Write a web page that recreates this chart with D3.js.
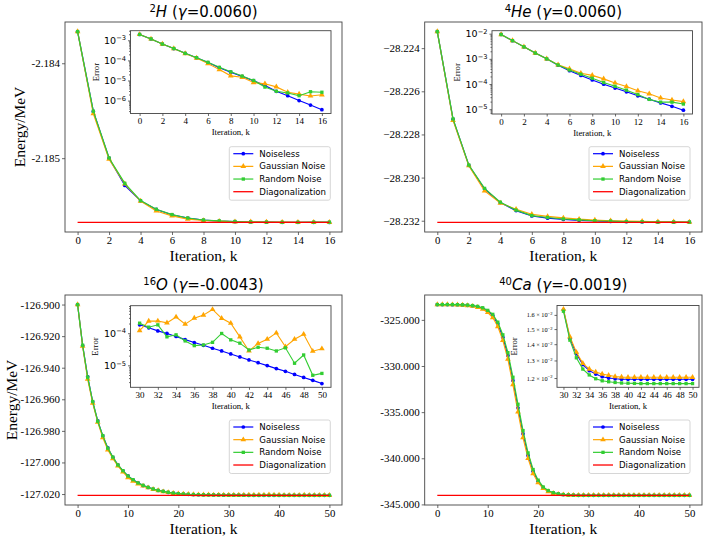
<!DOCTYPE html>
<html><head><meta charset="utf-8">
<script src="https://cdn.jsdelivr.net/npm/d3@7/dist/d3.min.js"></script>
<style>body{margin:0;background:#fff}svg{display:block}</style>
</head><body>
<svg id="chart" width="706" height="540"></svg>
<script>
// ---------------- DATA ----------------
const seriesNames = ["Noiseless", "Gaussian Noise", "Random Noise", "Diagonalization"];

// 2H panel (iterations 0..16)
const h2Noiseless = [-2.183666,-2.184508,-2.185000,-2.185287,-2.185449,-2.185540,-2.185596,-2.185632,-2.185653,-2.185663,-2.185669,-2.185672,-2.185674,-2.185675,-2.185676,-2.185676,-2.185677];
const h2Gaussian  = [-2.183666,-2.184530,-2.185010,-2.185270,-2.185452,-2.185556,-2.185607,-2.185641,-2.185656,-2.185664,-2.185670,-2.185671,-2.185672,-2.185674,-2.185675,-2.185675,-2.185675];
const h2Random    = [-2.183666,-2.184505,-2.184998,-2.185265,-2.185447,-2.185538,-2.185594,-2.185630,-2.185651,-2.185661,-2.185667,-2.185672,-2.185674,-2.185675,-2.185675,-2.185674,-2.185674];
const h2Diag = -2.185677;
const h2ErrNoiseless = [1.95e-3,1.17e-3,6.5e-4,3.9e-4,2.24e-4,1.35e-4,7.8e-5,4.35e-5,2.6e-5,1.6e-5,9.8e-6,5.6e-6,2.9e-6,1.74e-6,1.0e-6,6.0e-7,3.5e-7];
const h2ErrGaussian  = [1.95e-3,1.17e-3,6.5e-4,3.9e-4,2.2e-4,1.3e-4,6.9e-5,3.5e-5,1.7e-5,1.44e-5,7.9e-6,6.9e-6,4.8e-6,2.6e-6,2.1e-6,1.7e-6,1.95e-6];
const h2ErrRandom    = [1.95e-3,1.17e-3,6.5e-4,3.9e-4,2.24e-4,1.37e-4,8.0e-5,4.5e-5,2.7e-5,1.65e-5,1.0e-5,4.7e-6,2.9e-6,2.4e-6,1.75e-6,2.75e-6,2.6e-6];

// 4He panel (iterations 0..16)
const he4Noiseless = [-28.22323,-28.22730,-28.22943,-28.23053,-28.23116,-28.23153,-28.23178,-28.23188,-28.23194,-28.23198,-28.23201,-28.23203,-28.23204,-28.23205,-28.23206,-28.23206,-28.23207];
const he4Gaussian  = [-28.22323,-28.22735,-28.22945,-28.23062,-28.23118,-28.23147,-28.23170,-28.23180,-28.23187,-28.23193,-28.23197,-28.23200,-28.23202,-28.23203,-28.23205,-28.23205,-28.23206];
const he4Random    = [-28.22323,-28.22728,-28.22942,-28.23050,-28.23114,-28.23151,-28.23176,-28.23185,-28.23192,-28.23196,-28.23200,-28.23202,-28.23204,-28.23205,-28.23206,-28.23206,-28.23206];
const he4Diag = -28.23208;
const he4ErrNoiseless = [9.3e-3,5.3e-3,3.0e-3,1.7e-3,1.0e-3,5.6e-4,3.4e-4,2.2e-4,1.45e-4,9.8e-5,6.9e-5,4.9e-5,3.4e-5,2.5e-5,1.78e-5,1.3e-5,9.1e-6];
const he4ErrGaussian  = [9.3e-3,5.3e-3,3.0e-3,1.7e-3,1.0e-3,5.8e-4,4.0e-4,2.7e-4,2.2e-4,1.6e-4,1.1e-4,7.9e-5,5.4e-5,4.1e-5,2.8e-5,2.3e-5,2.0e-5];
const he4ErrRandom    = [9.3e-3,5.3e-3,3.0e-3,1.7e-3,1.0e-3,5.7e-4,3.6e-4,2.45e-4,1.7e-4,1.15e-4,8.1e-5,5.7e-5,3.8e-5,2.45e-5,1.9e-5,1.9e-5,1.6e-5];

// 16O panel (iterations 0..50)
const o16Noiseless = [-126.9000,-126.9259,-126.9458,-126.9616,-126.9737,-126.9832,-126.9908,-126.9968,-127.0015,-127.0053,-127.0085,-127.0110,-127.0129,-127.0146,-127.0158,-127.0169,-127.0177,-127.0183,-127.0190,-127.0194,-127.0198,-127.0200,-127.0202,-127.0203,-127.0204,-127.0205,-127.0205,-127.0206,-127.0206,-127.0207,-127.0207,-127.0207,-127.0207,-127.0207,-127.0208,-127.0208,-127.0208,-127.0208,-127.0208,-127.0208,-127.0208,-127.0208,-127.0208,-127.0208,-127.0208,-127.0208,-127.0208,-127.0208,-127.0208,-127.0208,-127.0208];
const o16Gaussian  = [-126.9000,-126.9263,-126.9472,-126.9624,-126.9745,-126.9843,-126.9920,-126.9975,-127.0021,-127.0060,-127.0096,-127.0118,-127.0135,-127.0149,-127.0160,-127.0170,-127.0178,-127.0185,-127.0190,-127.0195,-127.0198,-127.0200,-127.0202,-127.0203,-127.0204,-127.0205,-127.0205,-127.0206,-127.0206,-127.0206,-127.0207,-127.0207,-127.0207,-127.0207,-127.0206,-127.0207,-127.0206,-127.0206,-127.0204,-127.0206,-127.0207,-127.0208,-127.0208,-127.0208,-127.0208,-127.0207,-127.0208,-127.0208,-127.0208,-127.0208,-127.0208];
const o16Random    = [-126.9000,-126.9258,-126.9460,-126.9614,-126.9739,-126.9830,-126.9910,-126.9966,-127.0016,-127.0052,-127.0086,-127.0109,-127.0130,-127.0145,-127.0158,-127.0168,-127.0177,-127.0183,-127.0189,-127.0194,-127.0198,-127.0200,-127.0202,-127.0203,-127.0204,-127.0205,-127.0205,-127.0206,-127.0206,-127.0207,-127.0207,-127.0207,-127.0207,-127.0208,-127.0208,-127.0208,-127.0208,-127.0208,-127.0208,-127.0208,-127.0208,-127.0208,-127.0208,-127.0208,-127.0208,-127.0208,-127.0208,-127.0208,-127.0208,-127.0208,-127.0208];
const o16Diag = -127.0209;
const o16ErrNoiseless = [1.82e-4,1.47e-4,1.18e-4,9.8e-5,7.9e-5,6.3e-5,5.1e-5,4.2e-5,3.4e-5,2.8e-5,2.26e-5,1.82e-5,1.47e-5,1.21e-5,9.8e-6,7.9e-6,6.5e-6,5.2e-6,4.2e-6,3.4e-6,2.7e-6];
const o16ErrGaussian  = [1.21e-4,2.37e-4,2.4e-4,2.1e-4,3.2e-4,1.91e-4,2.94e-4,3.66e-4,5.5e-4,2.9e-4,2.05e-4,7.7e-5,2.8e-5,4.8e-5,6.5e-5,1.02e-4,3.8e-5,6.5e-5,9.3e-5,2.75e-5,3.3e-5];
const o16ErrRandom    = [2.05e-4,1.54e-4,1.82e-4,7.7e-5,8.9e-5,5.75e-5,4.1e-5,4.3e-5,5.2e-5,9.8e-5,6.2e-5,4.9e-5,3.0e-5,3.65e-5,3.4e-5,2.8e-5,3.5e-5,1.16e-5,2.1e-5,4.9e-6,5.6e-6];

// 40Ca panel (iterations 0..50)
const ca40Noiseless = [-323.34,-323.34,-323.34,-323.35,-323.36,-323.38,-323.42,-323.48,-323.58,-323.75,-324.06,-324.53,-325.43,-326.88,-328.86,-331.57,-334.53,-337.34,-339.69,-341.42,-342.50,-343.19,-343.55,-343.76,-343.87,-343.94,-343.98,-344.00,-344.01,-344.01,-344.02,-344.02,-344.02,-344.02,-344.02,-344.02,-344.02,-344.02,-344.02,-344.02,-344.02,-344.02,-344.02,-344.02,-344.02,-344.02,-344.02,-344.02,-344.02,-344.02,-344.02];
const ca40Gaussian  = [-323.34,-323.34,-323.35,-323.36,-323.37,-323.40,-323.45,-323.52,-323.64,-323.84,-324.20,-324.75,-325.72,-327.22,-329.25,-332.02,-334.98,-337.76,-340.02,-341.65,-342.64,-343.27,-343.60,-343.79,-343.89,-343.95,-343.99,-344.00,-344.01,-344.01,-344.02,-344.02,-344.02,-344.02,-344.02,-344.02,-344.02,-344.02,-344.02,-344.02,-344.02,-344.02,-344.02,-344.02,-344.02,-344.02,-344.02,-344.02,-344.02,-344.02,-344.02];
const ca40Random    = [-323.34,-323.34,-323.34,-323.34,-323.35,-323.37,-323.40,-323.45,-323.54,-323.69,-323.97,-324.40,-325.25,-326.62,-328.55,-331.22,-334.15,-337.00,-339.42,-341.22,-342.37,-343.11,-343.50,-343.73,-343.85,-343.93,-343.97,-344.00,-344.01,-344.01,-344.02,-344.02,-344.02,-344.02,-344.02,-344.02,-344.02,-344.02,-344.02,-344.02,-344.02,-344.02,-344.02,-344.02,-344.02,-344.02,-344.02,-344.02,-344.02,-344.02,-344.02];
const ca40Diag = -344.03;
const ca40ErrNoiseless = [1.637e-2,1.437e-2,1.341e-2,1.276e-2,1.241e-2,1.222e-2,1.207e-2,1.200e-2,1.196e-2,1.194e-2,1.193e-2,1.193e-2,1.193e-2,1.193e-2,1.193e-2,1.193e-2,1.193e-2,1.193e-2,1.193e-2,1.193e-2,1.193e-2];
const ca40ErrGaussian  = [1.642e-2,1.448e-2,1.350e-2,1.283e-2,1.250e-2,1.233e-2,1.222e-2,1.215e-2,1.208e-2,1.205e-2,1.204e-2,1.204e-2,1.204e-2,1.204e-2,1.204e-2,1.204e-2,1.204e-2,1.204e-2,1.204e-2,1.204e-2,1.204e-2];
const ca40ErrRandom    = [1.627e-2,1.426e-2,1.316e-2,1.250e-2,1.217e-2,1.196e-2,1.185e-2,1.180e-2,1.176e-2,1.173e-2,1.172e-2,1.171e-2,1.170e-2,1.170e-2,1.170e-2,1.170e-2,1.170e-2,1.170e-2,1.170e-2,1.170e-2,1.170e-2];

// tick labels
const xTicksShort = [0,2,4,6,8,10,12,14,16];
const xTicksLong = [0,10,20,30,40,50];
const xTicksInsetLong = [30,32,34,36,38,40,42,44,46,48,50];
const h2YTicks = [-2.184,-2.185];
const he4YTicks = [-28.224,-28.226,-28.228,-28.230,-28.232];
const o16YTicks = [-126.900,-126.920,-126.940,-126.960,-126.980,-127.000,-127.020];
const ca40YTicks = [-325,-330,-335,-340,-345];
const h2InsetYTicks = [1e-3,1e-4,1e-5,1e-6];
const he4InsetYTicks = [1e-2,1e-3,1e-4,1e-5];
const o16InsetYTicks = [1e-4,1e-5];
const ca40InsetYTicks = [0.012,0.013,0.014,0.015,0.016];
const ca40InsetYLabels = ["1.2","1.3","1.4","1.5","1.6"];

// ---------------- STYLE ----------------
const COLORS = ["#0000ff", "#ffa500", "#32cd32", "#ff0000"];
const SYMBOLS = [d3.symbolCircle, d3.symbolTriangle, d3.symbolSquare];
const SYMSIZE = [11, 14, 11];
const SERIF = "'Liberation Serif','Times New Roman',serif";
const SANS = "'DejaVu Sans',sans-serif";
const FRAME = "#444";

const svg = d3.select("#chart");

function linDomain(vals) {
  const [mn, mx] = d3.extent(vals);
  const p = (mx - mn) * 0.05;
  return [mn - p, mx + p];
}
function logDomain(vals) {
  const l = vals.map(v => Math.log10(v));
  const mn = d3.min(l), mx = d3.max(l), p = (mx - mn) * 0.05;
  return [Math.pow(10, mn - p), Math.pow(10, mx + p)];
}

function drawSeries(g, x, y, vals, start, idx, lw) {
  const pts = vals.map((v, i) => [start + i, v]);
  g.append("path")
    .attr("d", d3.line().x(d => x(d[0])).y(d => y(d[1]))(pts))
    .attr("fill", "none").attr("stroke", COLORS[idx]).attr("stroke-width", lw);
  g.selectAll(null).data(pts).enter().append("path")
    .attr("transform", d => `translate(${x(d[0])},${y(d[1])})`)
    .attr("d", d3.symbol(SYMBOLS[idx], SYMSIZE[idx])())
    .attr("fill", COLORS[idx]);
}

function styleAxis(sel, fs, font) {
  sel.select(".domain").remove();
  sel.selectAll(".tick line").attr("stroke", FRAME).attr("stroke-width", 0.8);
  sel.selectAll(".tick text").attr("font-family", font).attr("font-size", fs).attr("fill", "#000");
}

function drawPanel(p) {
  const [x0, y0, x1, y1] = p.frame;
  const g = svg.append("g");
  const n = p.series[0].length - 1;
  const x = d3.scaleLinear().domain([-0.05 * n, n * 1.05]).range([x0, x1]);
  const y = d3.scaleLinear().domain(linDomain([].concat(...p.series, [p.diag]))).range([y1, y0]);

  // axes
  const ax = g.append("g").attr("transform", `translate(0,${y1})`)
    .call(d3.axisBottom(x).tickValues(p.xTicks).tickSize(3).tickPadding(1.5).tickFormat(d3.format("d")));
  styleAxis(ax, "10.8px", SERIF);
  const ay = g.append("g").attr("transform", `translate(${x0},0)`)
    .call(d3.axisLeft(y).tickValues(p.yTicks).tickSize(3).tickPadding(2).tickFormat(p.yFmt));
  styleAxis(ay, "11px", SERIF);

  // series
  const data = g.append("g");
  p.series.forEach((s, i) => drawSeries(data, x, y, s, 0, i, 1.2));
  data.append("line").attr("x1", x(0)).attr("x2", x(n)).attr("y1", y(p.diag)).attr("y2", y(p.diag))
    .attr("stroke", COLORS[3]).attr("stroke-width", 1.3);

  g.append("rect").attr("x", x0).attr("y", y0).attr("width", x1 - x0).attr("height", y1 - y0)
    .attr("fill", "none").attr("stroke", FRAME).attr("stroke-width", 0.9);

  // title
  const t = g.append("text").attr("x", (x0 + x1) / 2).attr("y", y0 - 5)
    .attr("text-anchor", "middle").attr("font-family", SANS).attr("font-size", "15px").attr("fill", "#000");
  t.append("tspan").attr("font-size", "10px").attr("dy", "-5.5").text(p.titleSup);
  t.append("tspan").attr("font-style", "italic").attr("dy", "5.5").text(p.titleEl);
  t.append("tspan").text(" (");
  t.append("tspan").attr("font-style", "italic").text("γ");
  t.append("tspan").text(p.titleRest);

  // axis labels
  g.append("text").attr("x", (x0 + x1) / 2).attr("y", y1 + 28.5).attr("text-anchor", "middle")
    .attr("font-family", SERIF).attr("font-size", "15.5px").text("Iteration, k");
  if (p.ylabelX) {
    g.append("text").attr("transform", `translate(${p.ylabelX},${(y0 + y1) / 2}) rotate(-90)`).attr("text-anchor", "middle")
      .attr("font-family", SERIF).attr("font-size", "15.5px").text("Energy/MeV");
  }

  drawInset(g, p.inset);
  drawLegend(g, p.legend[0], p.legend[1]);
}

function drawInset(g, q) {
  const [x0, y0, x1, y1] = q.box;
  const ig = g.append("g");
  ig.append("rect").attr("x", x0).attr("y", y0).attr("width", x1 - x0).attr("height", y1 - y0).attr("fill", "#fff");
  const n = q.series[0].length - 1;
  const x = d3.scaleLinear().domain([q.start - 0.05 * n, q.start + n * 1.05]).range([x0, x1]);
  const y = d3.scaleLog().domain(logDomain([].concat(...q.series))).range([y1, y0]);

  const ax = ig.append("g").attr("transform", `translate(0,${y1})`)
    .call(d3.axisBottom(x).tickValues(q.xTicks).tickSize(2.5).tickPadding(2).tickFormat(d3.format("d")));
  styleAxis(ax, "9px", SERIF);

  // minor ticks
  if (q.minor) {
    const dom = y.domain();
    const minors = y.ticks().filter(v => v > dom[0] && v < dom[1] && Math.abs(Math.log10(v) - Math.round(Math.log10(v))) > 1e-6);
    const am = ig.append("g").attr("transform", `translate(${x0},0)`)
      .call(d3.axisLeft(y).tickValues(minors).tickSize(1.5).tickFormat(""));
    styleAxis(am, "1px", SERIF);
  }
  const ay = ig.append("g").attr("transform", `translate(${x0},0)`)
    .call(d3.axisLeft(y).tickValues(q.yTicks).tickSize(2.5).tickPadding(2).tickFormat(""));
  styleAxis(ay, q.ySmall ? "6.3px" : "9.5px", q.ySmall ? SERIF : SANS);
  ay.selectAll(".tick text").each(function (d, i) {
    const tx = d3.select(this);
    tx.text(null);
    if (q.ySmall) {
      tx.append("tspan").text(q.yLabels[i] + " × 10");
      tx.append("tspan").attr("dy", "-0.45em").attr("font-size", "4.6px").text("−2");
    } else {
      tx.append("tspan").text("10");
      tx.append("tspan").attr("dy", "-0.5em").attr("font-size", "6.7px").text("−" + Math.round(-Math.log10(d)));
    }
  });

  const dg = ig.append("g");
  q.series.forEach((s, i) => drawSeries(dg, x, y, s, q.start, i, 1.1));

  ig.append("rect").attr("x", x0).attr("y", y0).attr("width", x1 - x0).attr("height", y1 - y0)
    .attr("fill", "none").attr("stroke", FRAME).attr("stroke-width", 0.9);

  ig.append("text").attr("x", (x0 + x1) / 2).attr("y", y1 + 21.5).attr("text-anchor", "middle")
    .attr("font-family", SERIF).attr("font-size", "8.7px").text("Iteration, k");
  ig.append("text").attr("transform", `translate(${q.errX},${(y0 + y1) / 2}) rotate(-90)`)
    .attr("text-anchor", "middle").attr("dy", "0.32em")
    .attr("font-family", SERIF).attr("font-size", "8.7px").text("Error");
}

function drawLegend(g, lx, ly) {
  const lg = g.append("g").attr("transform", `translate(${lx},${ly})`);
  lg.append("rect").attr("width", 101).attr("height", 53.5).attr("rx", 2)
    .attr("fill", "#fff").attr("fill-opacity", 0.85).attr("stroke", "#cccccc").attr("stroke-width", 0.8);
  seriesNames.forEach((name, i) => {
    const cy = 7 + i * 12.67;
    lg.append("line").attr("x1", 4).attr("x2", 24).attr("y1", cy).attr("y2", cy)
      .attr("stroke", COLORS[i]).attr("stroke-width", i === 3 ? 1.3 : 1.2);
    if (i < 3) {
      lg.append("path").attr("transform", `translate(14,${cy})`)
        .attr("d", d3.symbol(SYMBOLS[i], SYMSIZE[i])()).attr("fill", COLORS[i]);
    }
    lg.append("text").attr("x", 30).attr("y", cy).attr("dy", "0.35em")
      .attr("font-family", SANS).attr("font-size", "8.6px").attr("fill", "#000").text(name);
  });
}

const hyph = d => d.toFixed(3);
const minus = d => "−" + Math.abs(d).toFixed(3);

drawPanel({
  frame: [65, 22, 342, 232], series: [h2Noiseless, h2Gaussian, h2Random], diag: h2Diag,
  xTicks: xTicksShort, yTicks: h2YTicks, yFmt: hyph, ylabelX: 25,
  titleSup: "2", titleEl: "H", titleRest: "=0.0060)", legend: [229.3, 146.7],
  inset: { box: [130.5, 30.7, 331, 113.5], start: 0, series: [h2ErrNoiseless, h2ErrGaussian, h2ErrRandom],
    xTicks: xTicksShort, yTicks: h2InsetYTicks, minor: true, errX: 96.7 }
});
drawPanel({
  frame: [424.7, 22, 702, 232], series: [he4Noiseless, he4Gaussian, he4Random], diag: he4Diag,
  xTicks: xTicksShort, yTicks: he4YTicks, yFmt: minus, ylabelX: null,
  titleSup: "4", titleEl: "He", titleRest: "=0.0060)", legend: [589, 146.7],
  inset: { box: [492, 30.7, 692.5, 114], start: 0, series: [he4ErrNoiseless, he4ErrGaussian, he4ErrRandom],
    xTicks: xTicksShort, yTicks: he4InsetYTicks, minor: true, errX: 457.7 }
});
drawPanel({
  frame: [65, 295, 342, 505], series: [o16Noiseless, o16Gaussian, o16Random], diag: o16Diag,
  xTicks: xTicksLong, yTicks: o16YTicks, yFmt: hyph, ylabelX: 16.5,
  titleSup: "16", titleEl: "O", titleRest: "=-0.0043)", legend: [229.3, 420],
  inset: { box: [130.5, 305.7, 331, 387.3], start: 30, series: [o16ErrNoiseless, o16ErrGaussian, o16ErrRandom],
    xTicks: xTicksInsetLong, yTicks: o16InsetYTicks, minor: true, errX: 95.7 }
});
drawPanel({
  frame: [424.7, 295, 702, 505], series: [ca40Noiseless, ca40Gaussian, ca40Random], diag: ca40Diag,
  xTicks: xTicksLong, yTicks: ca40YTicks, yFmt: hyph, ylabelX: null,
  titleSup: "40", titleEl: "Ca", titleRest: "=-0.0019)", legend: [589, 420],
  inset: { box: [557, 305.5, 699, 387.3], start: 30, series: [ca40ErrNoiseless, ca40ErrGaussian, ca40ErrRandom],
    xTicks: xTicksInsetLong, yTicks: ca40InsetYTicks, yLabels: ca40InsetYLabels, ySmall: true, minor: false, errX: 514 }
});
</script>
</body></html>
